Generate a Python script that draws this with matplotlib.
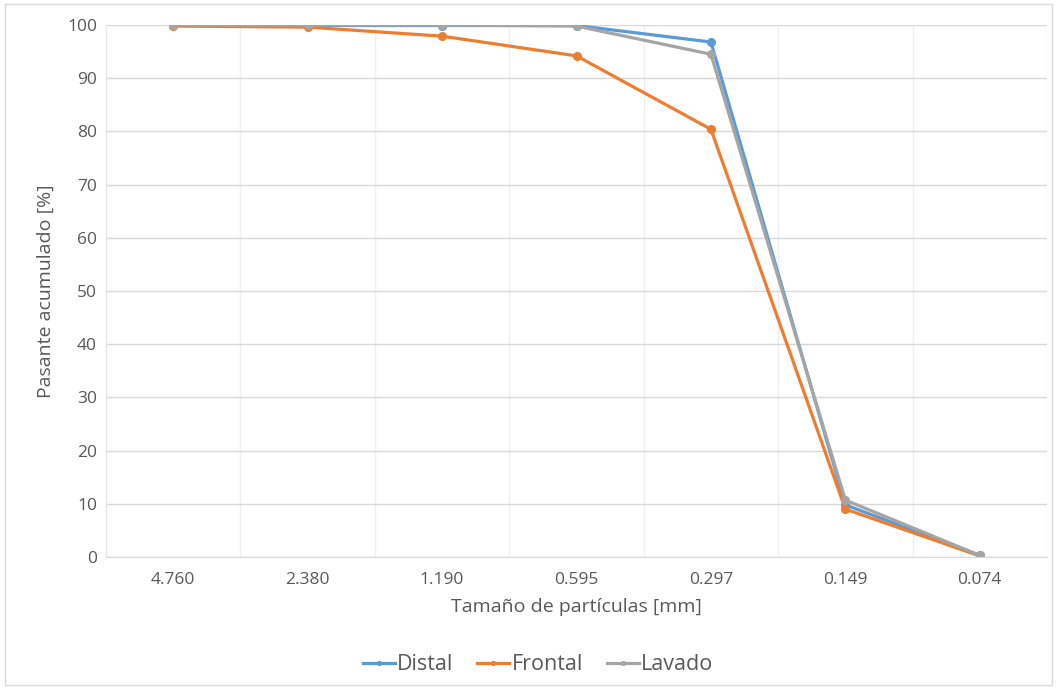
import matplotlib
matplotlib.use("Agg")
import matplotlib.pyplot as plt
from matplotlib.patches import Rectangle

categories = ["4.760", "2.380", "1.190", "0.595", "0.297", "0.149", "0.074"]
distal = [100.0, 99.9, 99.9, 99.9, 96.8, 9.8, 0.3]
frontal = [99.8, 99.6, 97.9, 94.2, 80.4, 9.0, 0.2]
lavado = [100.0, 100.0, 100.0, 99.8, 94.5, 10.7, 0.3]

plt.rcParams['font.family'] = ['Open Sans', 'DejaVu Sans']
W, H = 1057, 689
fig = plt.figure(figsize=(W/100, H/100), dpi=100)
ax = fig.add_axes([106/W, 1-557/H, (1047-106)/W, (557-25)/H])

x = list(range(len(categories)))
colors = {"Distal": "#5B9BD5", "Frontal": "#ED7D31", "Lavado": "#A5A5A5"}
for name, vals in [("Distal", distal), ("Frontal", frontal), ("Lavado", lavado)]:
    ax.plot(x, vals, color=colors[name], lw=2.3, marker='o', ms=5.5, label=name,
            solid_joinstyle='round')

ax.set_xlim(-0.5, len(categories)-0.5)
ax.set_ylim(0, 100)
ax.set_yticks(range(0, 101, 10))
ax.set_xticks(x)
ax.set_xticklabels(categories)
ax.set_xticks([i - 0.5 for i in range(len(categories)+1)], minor=True)
ax.grid(axis='y', which='major', color='#D9D9D9', lw=1)
ax.grid(axis='x', which='minor', color='#EFEFEF', lw=1)
ax.set_axisbelow(True)
for s in ['top', 'right']:
    ax.spines[s].set_visible(False)
ax.spines['left'].set_color('#E6E6E6')
ax.spines['bottom'].set_color('#D9D9D9')
ax.tick_params(axis='both', which='both', length=0, labelsize=12.5, colors='#595959')
ax.tick_params(axis='x', pad=11)
ax.tick_params(axis='y', pad=6.5)
ax.set_xlabel("Tamaño de partículas [mm]", fontsize=14, color='#595959', labelpad=7)
ax.set_ylabel("Pasante acumulado [%]", fontsize=14, color='#595959', labelpad=9)

leg = fig.legend(loc='center', bbox_to_anchor=(538/W, 1-665/H), ncol=3, frameon=False,
                 fontsize=15.5, handlelength=1.5, handletextpad=0.1, columnspacing=1.1,
                 labelcolor='#595959', markerscale=0.5)

fig.patches.append(Rectangle((5/W, 4/H), 1047/W, 681/H, transform=fig.transFigure,
                             fill=False, edgecolor='#D9D9D9', lw=1))
fig.savefig("out.png", dpi=100)
